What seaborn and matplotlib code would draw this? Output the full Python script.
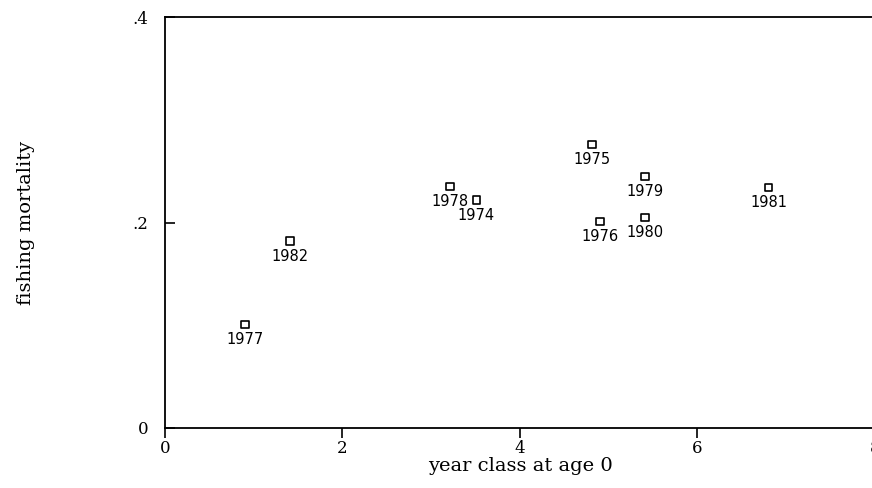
import matplotlib
matplotlib.use('Agg')
import pandas as pd
import matplotlib.pyplot as plt
import seaborn as sns

# year class labels and values
year_class = ['1977', '1982', '1978', '1974', '1975', '1976', '1979', '1980', '1981']
age0 = [0.90, 1.41, 3.21, 3.51, 4.81, 4.90, 5.41, 5.41, 6.80]
mortality = [0.101, 0.182, 0.235, 0.222, 0.276, 0.201, 0.245, 0.205, 0.234]

x_ticks = [0, 2, 4, 6, 8]
y_ticks = [0, 0.2, 0.4]
y_tick_labels = ['0', '.2', '.4']

df = pd.DataFrame({'year': year_class, 'age0': age0, 'F': mortality})

sns.set_style('white')
plt.rcParams['font.family'] = ['DejaVu Serif']
plt.rcParams['text.color'] = 'black'
plt.rcParams['axes.labelcolor'] = 'black'

fig = plt.figure(figsize=(8.72, 4.88), dpi=100)
ax = fig.add_axes([0.1892, 0.123, 0.8142, 0.842])

sns.scatterplot(data=df, x='age0', y='F', marker='s', s=28,
                facecolor='none', edgecolor='black', linewidth=1.2, ax=ax)

# year labels under each marker
for _, r in df.iterrows():
    ax.annotate(r['year'], (r['age0'], r['F']), xytext=(0, -5.5), textcoords='offset points',
                ha='center', va='top', fontsize=10.5, family='DejaVu Sans', color='black')

ax.set_xlim(0, 8)
ax.set_ylim(0, 0.4)
ax.set_xticks(x_ticks)
ax.set_xticklabels([str(t) for t in x_ticks])
ax.set_yticks(y_ticks)
ax.set_yticklabels(y_tick_labels)
ax.tick_params(axis='x', bottom=True, direction='out', length=7, width=1.2,
               labelsize=12, pad=2, colors='black')
ax.tick_params(axis='y', left=True, direction='in', length=7, width=1.2,
               labelsize=12, pad=12, colors='black')
for side in ['left', 'bottom', 'top']:
    ax.spines[side].set_linewidth(1.3)
    ax.spines[side].set_color('black')
ax.spines['right'].set_visible(False)

ax.set_xlabel('year class at age 0', fontsize=14, labelpad=0)
ax.set_ylabel('fishing mortality', fontsize=14, labelpad=70)

plt.savefig('out.png', dpi=100)
plt.close()
